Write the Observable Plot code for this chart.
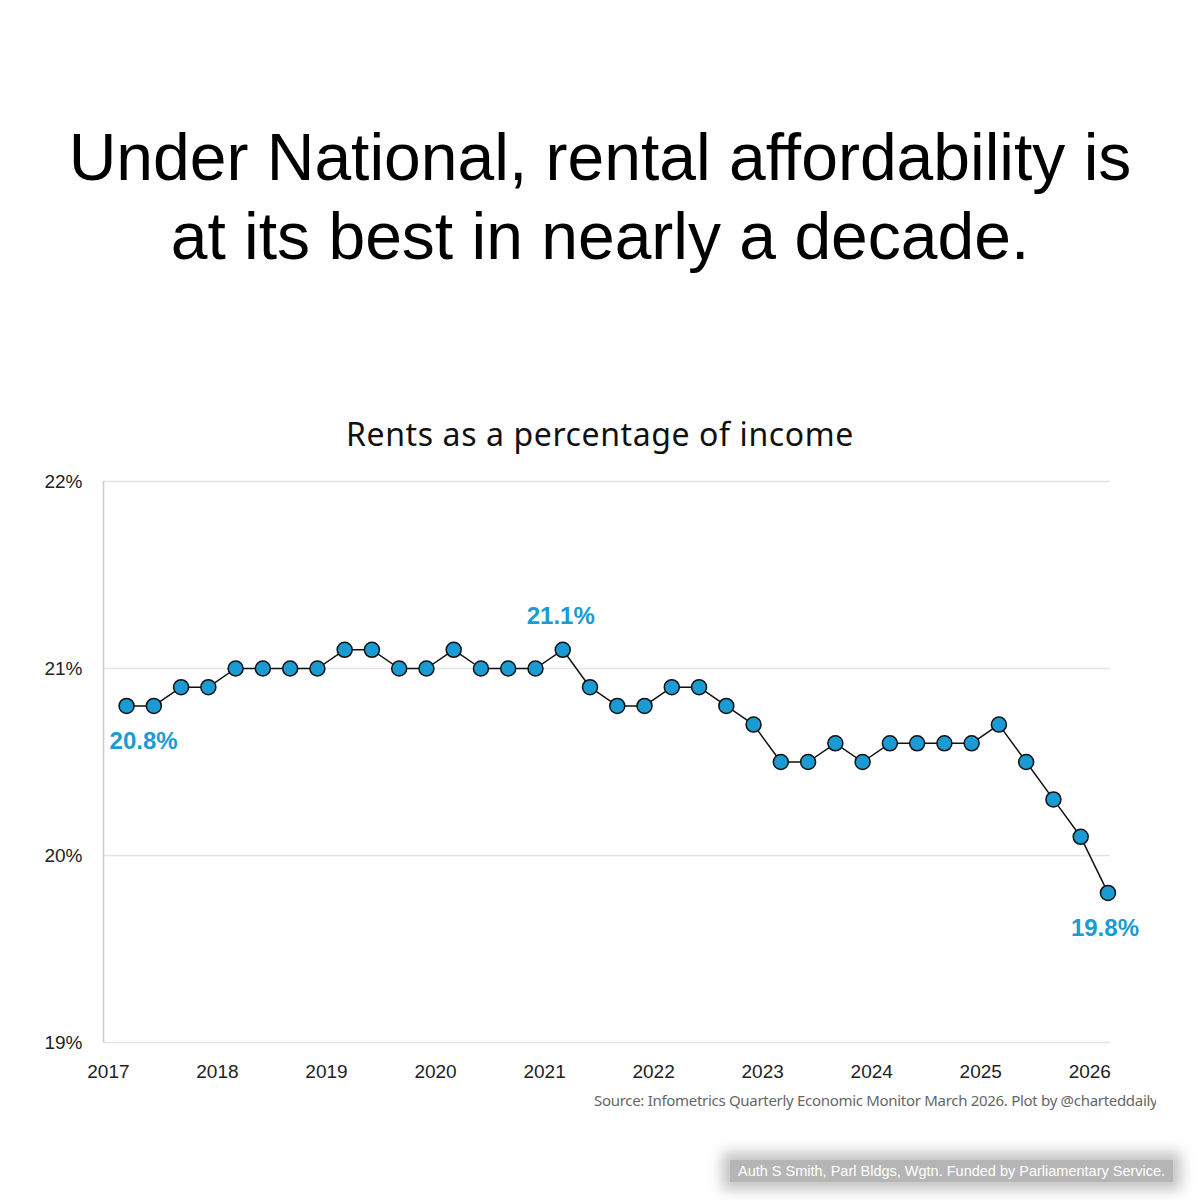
<!DOCTYPE html>
<html><head><meta charset="utf-8">
<script src="https://cdn.jsdelivr.net/npm/d3@7"></script>
<script src="https://cdn.jsdelivr.net/npm/@observablehq/plot@0.6"></script>
<style>
body{margin:0;background:#fff;width:1200px;height:1200px;position:relative;overflow:hidden;font-family:"Liberation Sans",Arial,sans-serif}
#title{position:absolute;top:118px;left:0;width:1200px;text-align:center;font-size:66px;line-height:79px;color:#000}
#sub{position:absolute;top:412px;left:0;width:1200px;text-align:center;font-size:32px;font-family:"Noto Sans",sans-serif;color:#111;letter-spacing:0.6px}
#chart{position:absolute;top:460px;left:0}
#src{position:absolute;top:1090px;left:594px;width:562px;overflow:hidden;white-space:nowrap;font-size:15px;color:#666;font-family:"Noto Sans",sans-serif;letter-spacing:-0.3px}
#foot{position:absolute;top:1160px;left:730px;padding:3px 8px;font-size:14.5px;color:#fff;background:#b5b5b5;box-shadow:0 0 14px 8px #c4c4c4}
</style></head><body>
<div id="title">Under National, rental affordability is<br>at its best in nearly a decade.</div>
<div id="sub">Rents as a percentage of income</div>
<div id="chart"></div>
<div id="src">Source: Infometrics Quarterly Economic Monitor March 2026. Plot by @charteddaily</div>
<div id="foot">Auth S Smith, Parl Bldgs, Wgtn. Funded by Parliamentary Service.</div>
<script>
const startYear = 2017;
const values = [20.8,20.8,20.9,20.9,21.0,21.0,21.0,21.0,21.1,21.1,21.0,21.0,21.1,21.0,21.0,21.0,21.1,20.9,20.8,20.8,20.9,20.9,20.8,20.7,20.5,20.5,20.6,20.5,20.6,20.6,20.6,20.6,20.7,20.5,20.3,20.1,19.8];
const yTicks = [19,20,21,22];
const xTicks = [2017,2018,2019,2020,2021,2022,2023,2024,2025,2026];
const labels = [{i:0,text:"20.8%",dx:17,dy:35},{i:16,text:"21.1%",dx:-2,dy:-33},{i:36,text:"19.8%",dx:-3,dy:35}];
const data = values.map((v,i)=>({t:startYear+(i*3+2)/12,v}));
const lab = labels.map(d=>({t:data[d.i].t,v:data[d.i].v,text:d.text,dx:d.dx,dy:d.dy}));
const blue="#1b9bd3";
const chart = Plot.plot({
  width:1200,height:622,marginTop:21,marginBottom:40,marginLeft:103,marginRight:90,
  style:{fontFamily:"Liberation Sans, Arial, sans-serif",fontSize:"19px",color:"#222"},
  x:{domain:[2016.955,2026.19],label:null},
  y:{domain:[19,22],label:null},
  marks:[
    Plot.gridY(yTicks,{stroke:"#e4e4e4",strokeOpacity:1,strokeWidth:1.5}),
    Plot.ruleX([2016.955],{stroke:"#ccc",strokeWidth:1.5}),
    Plot.axisY({ticks:yTicks,tickFormat:d=>d+"%",tickSize:0,textAnchor:"end",dx:-12,fontSize:19}),
    Plot.axisX({ticks:xTicks,tickFormat:d=>String(d),tickSize:0,tickPadding:22,fontSize:19}),
    Plot.line(data,{x:"t",y:"v",stroke:"#111",strokeWidth:1.5}),
    Plot.dot(data,{x:"t",y:"v",r:7.5,fill:blue,stroke:"#111",strokeWidth:1.5}),
    ...lab.map(d=>Plot.text([d],{x:"t",y:"v",text:"text",dx:d.dx,dy:d.dy,fill:blue,fontSize:24,fontWeight:"bold"}))
  ]
});
document.getElementById("chart").appendChild(chart);
</script>
</body></html>
